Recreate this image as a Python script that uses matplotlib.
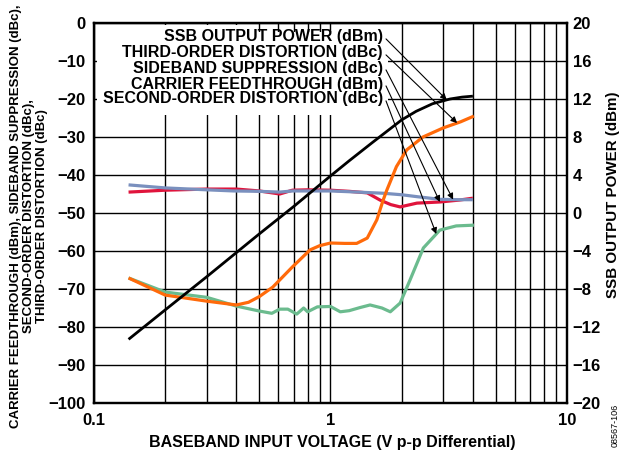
import matplotlib
matplotlib.use("Agg")
import matplotlib.pyplot as plt
import numpy as np
from matplotlib.patches import Rectangle

plt.rcParams['font.family'] = ['Liberation Sans', 'DejaVu Sans']
plt.rcParams['font.weight'] = 'bold'

# ---------------- data ----------------
x_ssb = [0.14, 0.2, 0.3, 0.5, 0.7, 1.0, 1.2, 1.5, 2.0, 2.3, 2.7, 3.2, 3.6, 4.0]
ssb_power = [-13.3, -10.2, -6.7, -2.2, 0.7, 3.9, 5.5, 7.4, 9.8, 10.7, 11.5, 12.0, 12.2, 12.3]

x_carrier = [0.14, 0.2, 0.3, 0.4, 0.5, 0.61, 0.69, 0.8, 1.0, 1.2, 1.43, 1.62, 1.8, 1.97, 2.32, 2.9, 3.5, 4.0]
carrier_ft = [-44.5, -44.0, -43.7, -43.7, -44.2, -45.0, -44.0, -43.9, -44.0, -44.3, -44.7, -46.6, -47.8, -48.4, -47.4, -47.1, -46.6, -46.1]

x_sideband = [0.14, 0.2, 0.3, 0.39, 0.5, 0.61, 0.69, 0.8, 1.0, 1.2, 1.67, 2.0, 2.32, 2.9, 3.5, 4.0]
sideband_sup = [-42.6, -43.4, -43.9, -44.2, -44.3, -44.5, -44.2, -44.2, -44.2, -44.4, -44.8, -45.2, -45.7, -46.4, -46.5, -46.5]

x_third = [0.14, 0.2, 0.3, 0.4, 0.45, 0.5, 0.57, 0.69, 0.82, 0.9, 1.0, 1.15, 1.29, 1.43, 1.57,
           1.67, 1.73, 1.9, 2.1, 2.46, 3.0, 3.55, 4.04]
third_order = [-67.1, -71.6, -73.2, -74.2, -73.5, -72.0, -69.5, -64.2, -59.7, -58.6, -57.9, -58.0, -58.0,
               -56.6, -51.8, -46.6, -44.0, -37.8, -33.4, -30.0, -27.6, -26.0, -24.5]

x_second = [0.14, 0.2, 0.3, 0.4, 0.5, 0.565, 0.61, 0.66, 0.72, 0.77, 0.8, 0.88, 1.0, 1.1, 1.2, 1.33,
            1.47, 1.65, 1.79, 1.97, 2.17, 2.47, 2.9, 3.4, 4.04]
second_order = [-67.1, -70.8, -72.2, -74.5, -75.8, -76.4, -75.3, -75.3, -76.6, -75.0, -76.0, -74.7, -74.6,
                -76.0, -75.7, -74.9, -74.2, -75.0, -76.0, -73.7, -67.6, -59.2, -54.5, -53.4, -53.2]

left_ticks = list(range(-100, 1, 10))
right_ticks = list(range(-20, 21, 4))
x_ticks = [0.1, 1, 10]
x_ticklabels = ["0.1", "1", "10"]

labels = ["SSB OUTPUT POWER (dBm)", "THIRD-ORDER DISTORTION (dBc)", "SIDEBAND SUPPRESSION (dBc)",
          "CARRIER FEEDTHROUGH (dBm)", "SECOND-ORDER DISTORTION (dBc)"]
arrow_x = [3.1, 3.43, 3.3, 2.9, 2.8]

# ---------------- figure ----------------
W, H = 622, 458
fig = plt.figure(figsize=(W / 100, H / 100), dpi=100)
L, R, T, B = 94, 567, 23, 403
ax = fig.add_axes([L / W, 1 - B / H, (R - L) / W, (B - T) / H])
ax.set_xscale('log')
ax.set_xlim(0.1, 10)
ax.set_ylim(-100, 0)
ax.set_axisbelow(True)

ax2 = ax.twinx()
ax2.set_ylim(-20, 20)
ax2.set_yticks(right_ticks)
ax2.tick_params(length=0, labelsize=12, pad=4)
for lab in ax2.get_yticklabels():
    lab.set_fontweight('bold')
for s in ax2.spines.values():
    s.set_linewidth(1.6)

ax.set_yticks(left_ticks)
ax.set_xticks(x_ticks)
ax.set_xticklabels(x_ticklabels)
ax.xaxis.set_minor_locator(matplotlib.ticker.LogLocator(base=10, subs=np.arange(2, 10)))
ax.xaxis.set_minor_formatter(matplotlib.ticker.NullFormatter())
ax.grid(True, which='both', axis='x', color='black', lw=1.0)
ax.grid(True, which='major', axis='y', color='black', lw=1.0)
ax.tick_params(axis='y', which='both', length=0, labelsize=12, pad=6)
ax.tick_params(axis='x', which='both', length=0, labelsize=12, pad=7)
for lab in ax.get_xticklabels() + ax.get_yticklabels():
    lab.set_fontweight('bold')
for s in ax.spines.values():
    s.set_linewidth(1.6)

# white area behind the legend text
ax.add_patch(Rectangle((3 / 473, (403 - 115) / 380), (240 - 97) / 473, (115 - 25) / 380,
                       transform=ax.transAxes, facecolor='white', edgecolor='none', zorder=1.5))
ax.add_patch(Rectangle((143 / 473, (403 - 115) / 380), (388 - 237) / 473, (115 - 32) / 380,
                       transform=ax.transAxes, facecolor='white', edgecolor='none', zorder=1.5))

lw = 2.3
ax.plot(x_carrier, carrier_ft, color='#E0143C', lw=lw, zorder=3, solid_joinstyle='round', solid_capstyle='butt')
ax.plot(x_sideband, sideband_sup, color='#7A90BE', lw=lw, zorder=3.1, solid_joinstyle='round', solid_capstyle='butt')
ax.plot(x_second, second_order, color='#6BBB8E', lw=lw, zorder=3, solid_joinstyle='round', solid_capstyle='butt')
ax.plot(x_third, third_order, color='#FF6A0A', lw=lw, zorder=3.2, solid_joinstyle='round', solid_capstyle='butt')
ax2.plot(x_ssb, ssb_power, color='black', lw=2.0, zorder=3, solid_joinstyle='round', solid_capstyle='butt')

# legend text with arrows
series = [(ax2, x_ssb, ssb_power), (ax, x_third, third_order), (ax, x_sideband, sideband_sup),
          (ax, x_carrier, carrier_ft), (ax, x_second, second_order)]
text_y = [37, 53, 68, 84, 99]
for i, (lbl, (a, xs, ys)) in enumerate(zip(labels, series)):
    yfrac = (B - text_y[i]) / (B - T)
    ax2.text(289 / 473, yfrac, lbl, transform=ax.transAxes, ha='right', va='center',
             fontsize=11.5, fontweight='bold', zorder=5)
    tx = arrow_x[i]
    ty = float(np.interp(np.log10(tx), np.log10(xs), ys))
    ax2.annotate('', xy=(tx, ty), xycoords=a.transData,
                 xytext=(292 / 473, yfrac - 0.005), textcoords=ax.transAxes,
                 arrowprops=dict(arrowstyle='-|>', color='black', lw=0.8,
                                 mutation_scale=9, shrinkA=0, shrinkB=0), zorder=5)

fig.text(332 / W, 1 - 443 / H, "BASEBAND INPUT VOLTAGE (V p-p Differential)",
         ha='center', va='center', fontsize=11.5, fontweight='bold')
fig.text(29 / W, 1 - 216 / H,
         "CARRIER FEEDTHROUGH (dBm), SIDEBAND SUPPRESSION (dBc),\nSECOND-ORDER DISTORTION (dBc),\nTHIRD-ORDER DISTORTION (dBc)",
         ha='center', va='center', rotation=90, fontsize=9.5, fontweight='bold', linespacing=1.15)
fig.text(613 / W, 1 - 195 / H, "SSB OUTPUT POWER (dBm)", ha='center', va='center',
         rotation=90, fontsize=10.9, fontweight='bold')
fig.text(615 / W, 1 - 425 / H, "08567-106", ha='center', va='center', rotation=90,
         fontsize=6.5, fontweight='normal')

fig.savefig("out.png", dpi=100)
